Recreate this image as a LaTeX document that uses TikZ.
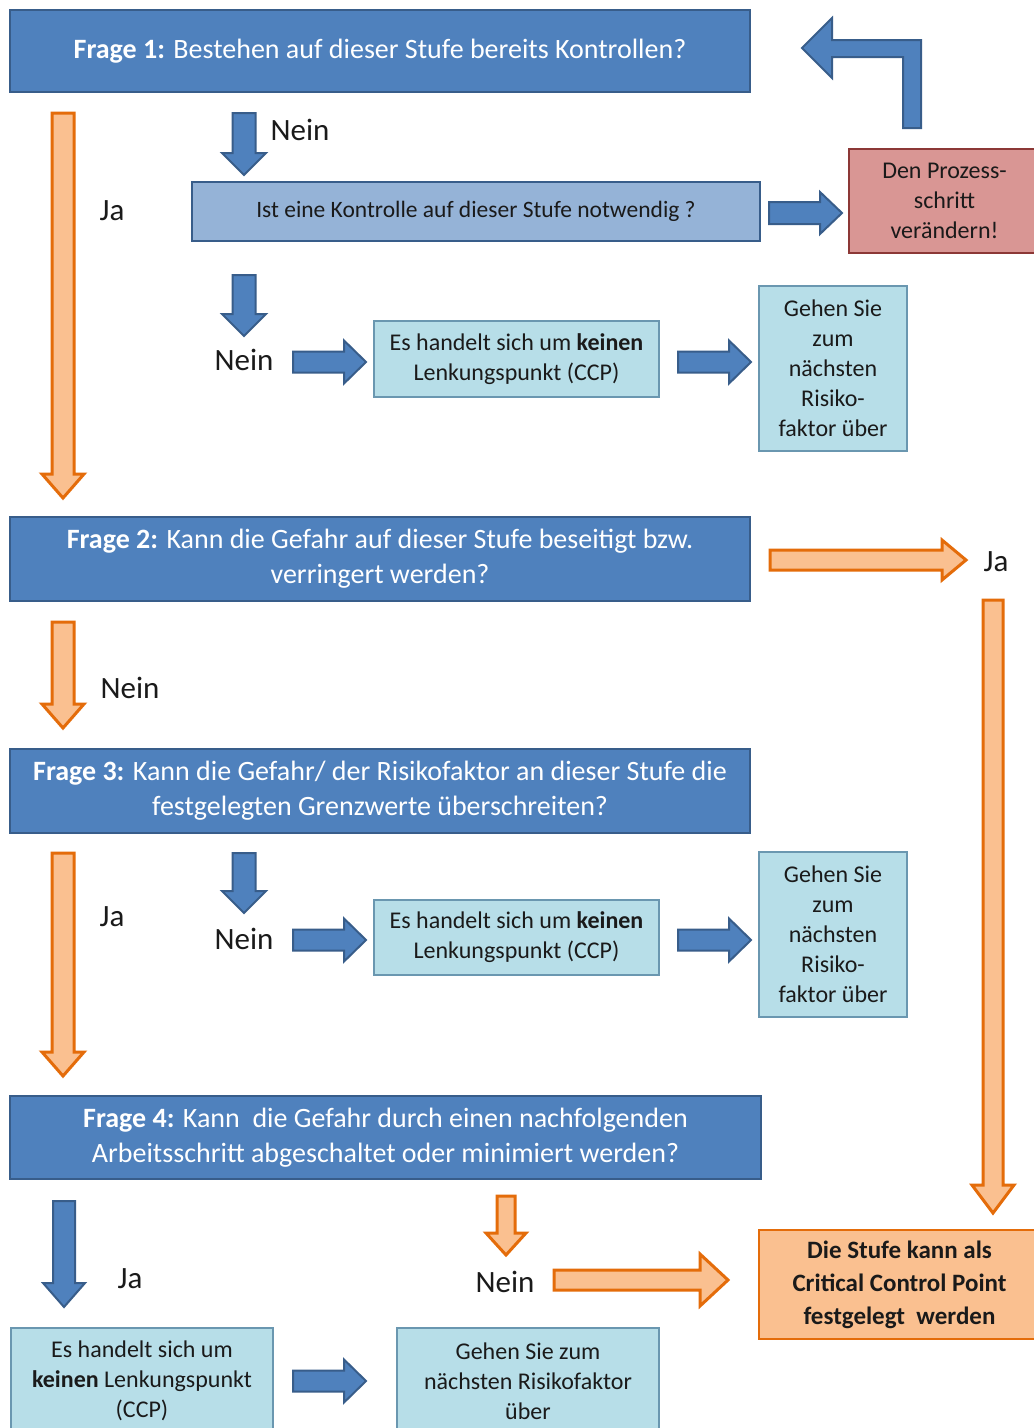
\documentclass[tikz,border=0pt]{standalone}
\usepackage{fontspec}
\setmainfont{Carlito}
\definecolor{qblue}{HTML}{4F81BD}
\definecolor{qblueD}{HTML}{385D8A}
\definecolor{qlight}{HTML}{95B3D7}
\definecolor{qcyan}{HTML}{B7DEE8}
\definecolor{qcyanD}{HTML}{6A97B0}
\definecolor{qred}{HTML}{D99694}
\definecolor{qredD}{HTML}{8C3836}
\definecolor{qor}{HTML}{FAC090}
\definecolor{qorD}{HTML}{E46C0A}
\definecolor{qtext}{HTML}{1A1A1A}
% down block arrow: style, xc, ytop, ytip, half shaft, half head, head length
\newcommand{\DownArr}[7]{\draw[#1] (#2-#5,#3) -- (#2+#5,#3) -- (#2+#5,#4-#7) -- (#2+#6,#4-#7) -- (#2,#4) -- (#2-#6,#4-#7) -- (#2-#5,#4-#7) -- cycle;}
% right block arrow: style, yc, xleft, xtip, half shaft, half head, head length
\newcommand{\RightArr}[7]{\draw[#1] (#3,#2-#5) -- (#4-#7,#2-#5) -- (#4-#7,#2-#6) -- (#4,#2) -- (#4-#7,#2+#6) -- (#4-#7,#2+#5) -- (#3,#2+#5) -- cycle;}
\begin{document}
\begin{tikzpicture}[x=1pt,y=-1pt,
  fbox/.style={fill=qblue,draw=qblueD,line width=2.5pt,text=white,align=center,inner sep=0pt,outer sep=0pt,font=\fontsize{28}{35}\selectfont},
  qbox/.style={fill=qlight,draw=qblueD,line width=2.5pt,text=qtext,align=center,inner sep=0pt,font=\fontsize{23.5}{28}\selectfont},
  cbox/.style={fill=qcyan,draw=qcyanD,line width=1.5pt,text=qtext,align=center,inner sep=0pt,font=\fontsize{24}{30}\selectfont},
  rbox/.style={fill=qred,draw=qredD,line width=1.2pt,text=qtext,align=center,inner sep=0pt,font=\fontsize{24}{30}\selectfont},
  obox/.style={fill=qor,draw=qorD,line width=2.5pt,text=qtext,align=center,inner sep=0pt,font=\bfseries\fontsize{25}{33}\selectfont},
  txt/.style={text=qtext,align=center,inner sep=0pt,font=\fontsize{24}{30}\selectfont},
  lbl/.style={text=qtext,inner sep=0pt,font=\fontsize{31}{31}\selectfont},
  barr/.style={fill=qblue,draw=qblueD,line width=2pt,line join=miter},
  oarr/.style={fill=qor,draw=qorD,line width=3pt,line join=miter}]
\useasboundingbox (0,0) rectangle (1034,1428);
\clip (0,0) rectangle (1034,1428);
\fill[white] (0,0) rectangle (1034,1428);

% boxes
\node[fbox,minimum width=740pt,minimum height=82pt] (f1) at (380,51) {\textbf{Frage 1:} Bestehen auf dieser Stufe bereits Kontrollen?};
\node[qbox,minimum width=568pt,minimum height=59pt] (q1) at (476,211.5) {Ist eine Kontrolle auf dieser Stufe notwendig ?};
\node[rbox,minimum width=191pt,minimum height=104pt] (red) at (944.5,201) {Den Prozess-\\schritt\\verändern!};
\node[cbox,minimum width=285pt,minimum height=76pt] (ccp1) at (516.5,359) {Es handelt sich um \textbf{keinen}\\Lenkungspunkt (CCP)};
\node[cbox,minimum width=148pt,minimum height=165pt] (g1) at (833,368.5) {Gehen Sie\\zum\\nächsten\\Risiko-\\faktor über};
\node[fbox,minimum width=740pt,minimum height=84pt] (f2) at (380,559) {\textbf{Frage 2:} Kann die Gefahr auf dieser Stufe beseitigt bzw.\\verringert werden?};
\node[fbox,minimum width=740pt,minimum height=84pt] (f3) at (380,791) {\textbf{Frage 3:} Kann die Gefahr/ der Risikofaktor an dieser Stufe die\\festgelegten Grenzwerte überschreiten?};
\node[cbox,minimum width=285pt,minimum height=75pt] (ccp2) at (516.5,937.5) {Es handelt sich um \textbf{keinen}\\Lenkungspunkt (CCP)};
\node[cbox,minimum width=148pt,minimum height=165pt] (g2) at (833,934.5) {Gehen Sie\\zum\\nächsten\\Risiko-\\faktor über};
\node[fbox,minimum width=751pt,minimum height=83pt] (f4) at (385.5,1137.5) {\textbf{Frage 4:} Kann\ \ die Gefahr durch einen nachfolgenden\\Arbeitsschritt abgeschaltet oder minimiert werden?};
\node[obox,minimum width=281pt,minimum height=109pt] (ccp) at (899.5,1284.5) {Die Stufe kann als\\Critical Control Point\\festgelegt\ \ werden};
\node[cbox,minimum width=262pt,minimum height=112pt] (b1) at (142,1384) {};
\node[txt] (b1t) at (142,1381) {Es handelt sich um\\\textbf{keinen} Lenkungspunkt\\(CCP)};
\node[cbox,minimum width=262pt,minimum height=112pt] (b2) at (528,1384) {};
\node[txt] (b2t) at (528,1381) {Gehen Sie zum\\nächsten Risikofaktor\\über};

% labels
\node[lbl] (n1) at (300,130) {Nein};
\node[lbl] (j1) at (112,211) {Ja};
\node[lbl] (n2) at (244,360) {Nein};
\node[lbl] (j2) at (996,562) {Ja};
\node[lbl] (n3) at (130,688) {Nein};
\node[lbl] (j3) at (112,917) {Ja};
\node[lbl] (n4) at (244,939) {Nein};
\node[lbl] (j4) at (130,1279) {Ja};
\node[lbl] (n5) at (505,1282) {Nein};

% arrows
\DownArr{oarr}{63}{113}{498}{11}{21}{24}
\DownArr{barr}{244}{113}{175}{11.5}{22}{22}
\RightArr{barr}{213}{769}{842}{11}{21}{22}
\draw[barr] (921,128) -- (921,40) -- (832,40) -- (832,18) -- (802,48) -- (832,78) -- (832,57) -- (903,57) -- (903,128) -- cycle;
\DownArr{barr}{244}{275}{336}{11.5}{22}{22}
\RightArr{barr}{362}{293}{366}{10.5}{21.5}{22}
\RightArr{barr}{362}{678}{751}{10.5}{21.5}{22}
\RightArr{oarr}{560}{770}{966}{10}{20}{24}
\DownArr{oarr}{993}{600}{1213}{10}{21}{28}
\DownArr{oarr}{63}{622}{728}{11}{21}{24}
\DownArr{oarr}{63}{853}{1076}{11}{21}{24}
\DownArr{barr}{244}{853}{913}{11.5}{22}{22}
\RightArr{barr}{940}{293}{366}{10.5}{21.5}{22}
\RightArr{barr}{940}{678}{751}{10.5}{21.5}{22}
\DownArr{barr}{64}{1201}{1307}{11}{21}{24}
\DownArr{oarr}{506}{1196}{1255}{9}{20}{22}
\RightArr{oarr}{1280}{554}{728}{10}{26}{28}
\RightArr{barr}{1381}{293}{366}{10.5}{21.5}{22}
\end{tikzpicture}
\end{document}
